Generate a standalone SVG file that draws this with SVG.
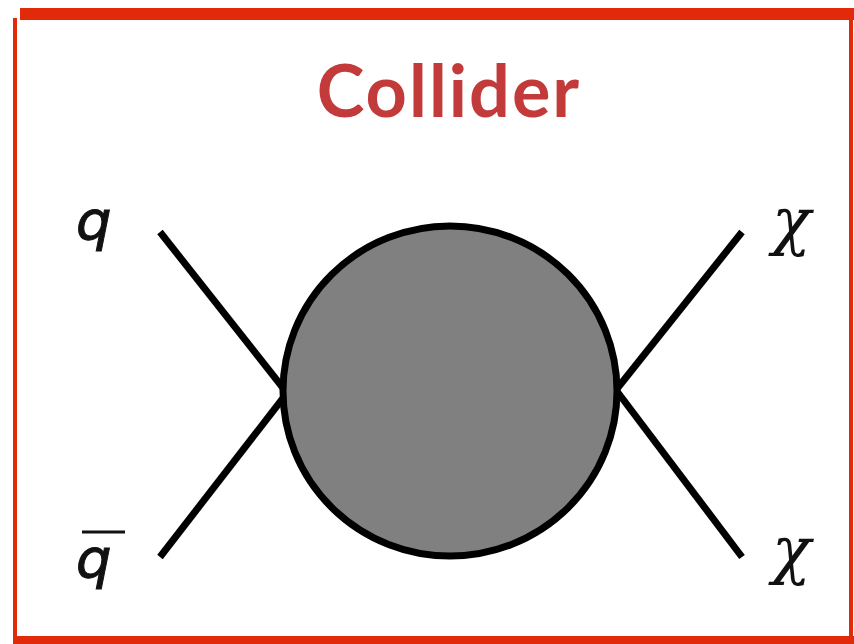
<svg xmlns="http://www.w3.org/2000/svg" width="854" height="644" viewBox="0 0 854 644">
<style>
.leg{stroke:#000;stroke-width:7;stroke-linecap:butt;fill:none}
.lbl{font-family:"DejaVu Sans","Liberation Sans",sans-serif;font-style:italic;font-size:56px;fill:#111;stroke:#111;stroke-width:1}
.chi{font-family:"DejaVu Serif","Liberation Serif",serif;font-style:italic;font-size:64px;fill:#111}
.title{font-family:"Lato","Open Sans",sans-serif;font-weight:bold;font-size:72px;letter-spacing:2px;fill:#c23a3a;text-anchor:middle}
</style>
<rect width="854" height="644" fill="#fff"/>
<g id="frame" fill="#e02a0a">
<rect x="20" y="8" width="834" height="12"/>
<rect x="13" y="18" width="4" height="620"/>
<rect x="849" y="14" width="4" height="624"/>
<rect x="13" y="636" width="841" height="8"/>
</g>
<g id="title"><text class="title" x="449" y="117">Collider</text></g>
<g id="connectors">
<line class="leg" x1="160" y1="232" x2="287" y2="393"/>
<line class="leg" x1="160" y1="557" x2="287" y2="393"/>
<line class="leg" x1="742" y1="232" x2="616" y2="390"/>
<line class="leg" x1="742" y1="557" x2="616" y2="390"/>
</g>
<g id="blob"><ellipse cx="450" cy="391" rx="167" ry="165" fill="#808080" stroke="#000" stroke-width="7"/></g>
<g id="q"><text class="lbl" x="76" y="240">q</text></g>
<g id="qbar"><text class="lbl" x="76" y="578">q</text><line x1="82" y1="532" x2="125" y2="532" stroke="#111" stroke-width="3"/></g>
<g id="chi1"><text class="chi" x="772" y="243">χ</text></g>
<g id="chi2"><text class="chi" x="772" y="572">χ</text></g>
</svg>
